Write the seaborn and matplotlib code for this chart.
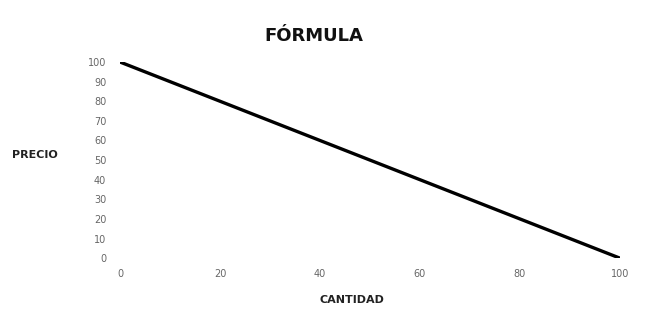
import matplotlib
matplotlib.use("Agg")
import matplotlib.pyplot as plt
import seaborn as sns
import pandas as pd

sns.set_theme(style="white")
plt.rcParams['font.family'] = ['DejaVu Sans']

cantidad = [0, 100]
precio = [100, 0]
x_ticks = [0, 20, 40, 60, 80, 100]
y_ticks = [0, 10, 20, 30, 40, 50, 60, 70, 80, 90, 100]

df = pd.DataFrame({"CANTIDAD": cantidad, "PRECIO": precio})

fig = plt.figure(figsize=(6.47, 3.11), dpi=100)
ax = fig.add_axes([0.1855, 0.170, 0.958 - 0.1855, 0.8006 - 0.170])
sns.lineplot(data=df, x="CANTIDAD", y="PRECIO", ax=ax, color="black", linewidth=2.4)

ax.set_xlim(0, 100)
ax.set_ylim(0, 100)
ax.set_xticks(x_ticks)
ax.set_yticks(y_ticks)
for s in ax.spines.values():
    s.set_visible(False)
ax.tick_params(axis="both", labelsize=7, colors="#666666", length=2, width=0.6, direction="out")
ax.tick_params(axis="x", pad=8, length=0)
ax.tick_params(axis="y", pad=8)

ax.set_xlabel("CANTIDAD", fontsize=8, fontweight="bold", color="#222222")
ax.xaxis.set_label_coords(0.465, -0.19)
ax.set_ylabel("PRECIO", fontsize=8, fontweight="bold", color="#222222", rotation=0, labelpad=0)
ax.yaxis.set_label_coords(-0.17, 0.5)
fig.text(0.485, 0.885, "FÓRMULA", fontsize=13, fontweight="bold", ha="center", va="center", color="#111111")

fig.savefig("out.png", dpi=100)
